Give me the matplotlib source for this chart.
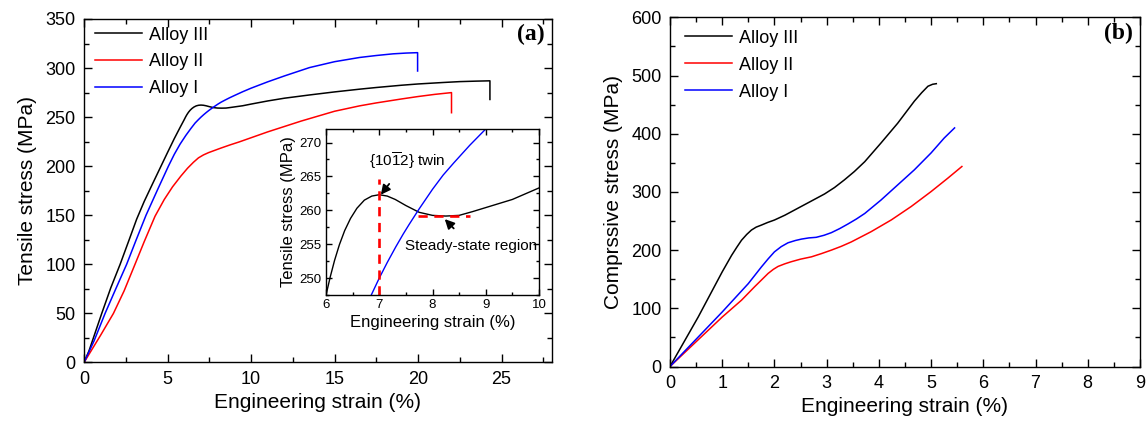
import matplotlib
matplotlib.use("Agg")
import matplotlib.pyplot as plt
from matplotlib.ticker import MultipleLocator

plt.rcParams['font.family'] = ['Liberation Sans', 'DejaVu Sans']
plt.rcParams['mathtext.fontset'] = 'custom'
plt.rcParams['mathtext.rm'] = 'Liberation Sans'
plt.rcParams['mathtext.it'] = 'Liberation Sans:italic'
plt.rcParams['mathtext.bf'] = 'Liberation Sans:bold'

labels = ["Alloy III", "Alloy II", "Alloy I"]
colors = ["black", "red", "blue"]

# Trazione (a): deformazione (%) e sforzo (MPa)
t_strain_3 = [0, 0.3, 0.6, 1.06, 1.6, 2.16, 2.7, 3.15, 3.6, 4.1, 4.55, 5.0, 5.4, 5.75, 6.0,
              6.08, 6.16, 6.25, 6.35, 6.46, 6.58, 6.72, 6.86, 7.0, 7.15, 7.3, 7.5, 7.75, 8.0,
              8.25, 8.5, 8.75, 9.0, 9.5, 10, 11, 12, 13.5, 15, 16.5, 17.5, 19, 20, 21.5,
              22.5, 23.5, 24.3, 24.3]
t_stress_3 = [0, 12, 27, 50, 76, 100, 125, 146, 164, 182, 198, 214, 228, 239.5, 247.5,
              250.2, 252.6, 254.9, 257.0, 258.8, 260.3, 261.5, 262.1, 262.3, 262.1, 261.6,
              260.7, 259.7, 259.25, 259.15, 259.25, 259.8, 260.4, 261.6, 263.3, 266.5, 269.3,
              272.6, 275.7, 278.5, 280.2, 282.5, 283.8, 285.3, 286.2, 286.7, 287, 268]

t_strain_2 = [0, 0.5, 1.0, 1.76, 2.4, 3.05, 3.6, 4.25, 4.8, 5.3, 5.8, 6.2, 6.55, 6.85, 7.15,
              7.45, 7.8, 8.2, 8.74, 9.3, 10, 11, 12, 13, 14, 15, 16.5, 17.5, 19, 20, 21,
              22.0, 22.0]
t_stress_2 = [0, 14, 28, 50, 73, 100, 123, 149, 166, 179, 190, 198, 204, 208.5, 211.5,
              213.8, 216, 218.5, 221.7, 224.8, 229, 235, 240.5, 246, 251, 256, 261.5, 264.5,
              268.5, 271, 273.2, 275, 254.5]

t_strain_1 = [0, 0.6, 1.26, 1.9, 2.55, 3.1, 3.71, 4.4, 5.05, 5.4, 5.75, 6.1, 6.4, 6.65,
              6.85, 7.0, 7.15, 7.31, 7.45, 7.56, 7.74, 8.0, 8.2, 8.4, 8.7, 9.0, 9.5, 10, 11,
              12, 13.5, 15, 16.5, 17.5, 18.5, 19.3, 19.97, 19.97]
t_stress_1 = [0, 22, 50, 75, 100, 124, 150, 176, 200, 212, 222.5, 231.5, 238.5, 244,
              247.5, 250.0, 252.3, 254.6, 256.5, 257.9, 260.1, 263.1, 265.2, 267, 269.6,
              272, 275.9, 279.5, 286, 292, 300.5, 306.5, 310.8, 312.8, 314.5, 315.3, 315.7,
              297]

# Compressione (b)
c_strain_3 = [0, 0.54, 1.0, 1.18, 1.28, 1.37, 1.47, 1.56, 1.65, 1.75, 1.87, 2.0, 2.2, 2.45,
              2.7, 2.96, 3.15, 3.34, 3.53, 3.73, 4.04, 4.36, 4.68, 4.82, 4.94, 5.03, 5.1]
c_stress_3 = [0, 85, 162.6, 191, 205, 217, 227, 234.5, 239.5, 243, 247.5, 251.7, 260, 272,
              284, 296.5, 307.5, 320.7, 335, 352, 384, 418, 456, 470.5, 481.6, 485, 486]

c_strain_2 = [0, 0.54, 1.0, 1.37, 1.62, 1.88, 1.98, 2.07, 2.2, 2.32, 2.5, 2.71, 2.9, 3.09,
              3.28, 3.47, 3.85, 4.24, 4.62, 5.0, 5.32, 5.59]
c_stress_2 = [0, 46, 85, 114, 137, 160, 167, 172, 176.5, 180, 184.5, 188.5, 194, 200, 206.5,
              214, 231.6, 252, 275, 300.6, 323.6, 343.7]

c_strain_1 = [0, 0.54, 1.0, 1.5, 1.75, 1.88, 2.0, 2.13, 2.26, 2.4, 2.52, 2.66, 2.8, 2.95,
              3.09, 3.25, 3.41, 3.57, 3.73, 4.04, 4.36, 4.68, 5.0, 5.25, 5.45]
c_stress_1 = [0, 50.6, 93.7, 142.5, 171, 185, 197, 206, 212.6, 216.5, 219, 221, 222, 225.5,
              230, 237, 245, 253.5, 263, 286, 312, 338, 367, 392.5, 410]

# Riferimenti nel riquadro ingrandito
twin_strain = 7.0
twin_stress = 262.3
steady_stress = 259.2
steady_range = [7.73, 8.7]


def stile_assi(ax, fs, pad):
    ax.tick_params(which='both', direction='in', top=True, right=True, labelsize=fs,
                   width=1, pad=pad)
    ax.tick_params(which='major', length=6)
    ax.tick_params(which='minor', length=3.5)
    for s in ax.spines.values():
        s.set_linewidth(1)


tensile = [(t_strain_3, t_stress_3), (t_strain_2, t_stress_2), (t_strain_1, t_stress_1)]
compress = [(c_strain_3, c_stress_3), (c_strain_2, c_stress_2), (c_strain_1, c_stress_1)]

fig = plt.figure(figsize=(11.48, 4.25), dpi=100)
ax1 = fig.add_axes([0.0732, 0.1471, 0.4074, 0.8082])
ax2 = fig.add_axes([0.5836, 0.1376, 0.4094, 0.8216])
ins = fig.add_axes([0.2840, 0.3059, 0.1855, 0.3906])

# (a) trazione
for (x, y), lab, col in zip(tensile, labels, colors):
    ax1.plot(x, y, color=col, lw=1.1, label=lab)
ax1.set_xlim(0, 28)
ax1.set_ylim(0, 350)
ax1.xaxis.set_major_locator(MultipleLocator(5))
ax1.xaxis.set_minor_locator(MultipleLocator(2.5))
ax1.yaxis.set_major_locator(MultipleLocator(50))
ax1.yaxis.set_minor_locator(MultipleLocator(25))
stile_assi(ax1, 13, 6)
ax1.set_xlabel("Engineering strain (%)", fontsize=15, labelpad=4)
ax1.set_ylabel("Tensile stress (MPa)", fontsize=15, labelpad=6)
ax1.legend(loc='upper left', bbox_to_anchor=(0.0083, 0.999), frameon=False, fontsize=13,
           handlelength=2.6, handletextpad=0.4, labelspacing=0.55, borderaxespad=0)
ax1.text(0.985, 0.955, "(a)", transform=ax1.transAxes, ha='right', va='center',
         fontsize=17, fontweight='bold', family='Liberation Serif')

# riquadro: zona del picco di Alloy III
ins.plot(t_strain_3, t_stress_3, color='black', lw=1)
ins.plot(t_strain_1, t_stress_1, color='blue', lw=1)
ins.plot([twin_strain, twin_strain], [247.5, 264.6], color='red', lw=1.9, ls=(0, (3.5, 2.5)))
ins.plot(steady_range, [steady_stress, steady_stress], color='red', lw=1.9, ls=(0, (3.5, 2.5)))
ins.set_xlim(6, 10)
ins.set_ylim(247.5, 272)
ins.xaxis.set_major_locator(MultipleLocator(1))
ins.xaxis.set_minor_locator(MultipleLocator(0.5))
ins.yaxis.set_major_locator(MultipleLocator(5))
ins.yaxis.set_minor_locator(MultipleLocator(2.5))
stile_assi(ins, 9.5, 3)
ins.tick_params(which='major', length=4)
ins.tick_params(which='minor', length=2.5)
ins.set_xlabel("Engineering strain (%)", fontsize=12, labelpad=3)
ins.set_ylabel("Tensile stress (MPa)", fontsize=12, labelpad=3)
ins.annotate(r"{10$\overline{1}$2} twin", xy=(7.03, twin_stress), xytext=(7.52, 267.3),
             ha='center', va='center', fontsize=11,
             arrowprops=dict(arrowstyle='-|>', color='black', lw=1.3, mutation_scale=14,
                             shrinkA=9, shrinkB=0))
ins.annotate("Steady-state region", xy=(8.23, 258.7), xytext=(8.72, 254.7),
             ha='center', va='center', fontsize=11,
             arrowprops=dict(arrowstyle='-|>', color='black', lw=1.3, mutation_scale=14,
                             shrinkA=8, shrinkB=0))

# (b) compressione
for (x, y), lab, col in zip(compress, labels, colors):
    ax2.plot(x, y, color=col, lw=1.1, label=lab)
ax2.set_xlim(0, 9)
ax2.set_ylim(0, 600)
ax2.xaxis.set_major_locator(MultipleLocator(1))
ax2.xaxis.set_minor_locator(MultipleLocator(0.5))
ax2.yaxis.set_major_locator(MultipleLocator(100))
ax2.yaxis.set_minor_locator(MultipleLocator(50))
stile_assi(ax2, 13, 6)
ax2.set_xlabel("Engineering strain (%)", fontsize=15, labelpad=4)
ax2.set_ylabel("Comprssive stress (MPa)", fontsize=15, labelpad=6)
ax2.legend(loc='upper left', bbox_to_anchor=(0.0172, 0.985), frameon=False, fontsize=13,
           handlelength=2.6, handletextpad=0.4, labelspacing=0.55, borderaxespad=0)
ax2.text(0.985, 0.955, "(b)", transform=ax2.transAxes, ha='right', va='center',
         fontsize=17, fontweight='bold', family='Liberation Serif')

fig.savefig("out.png", dpi=100)
